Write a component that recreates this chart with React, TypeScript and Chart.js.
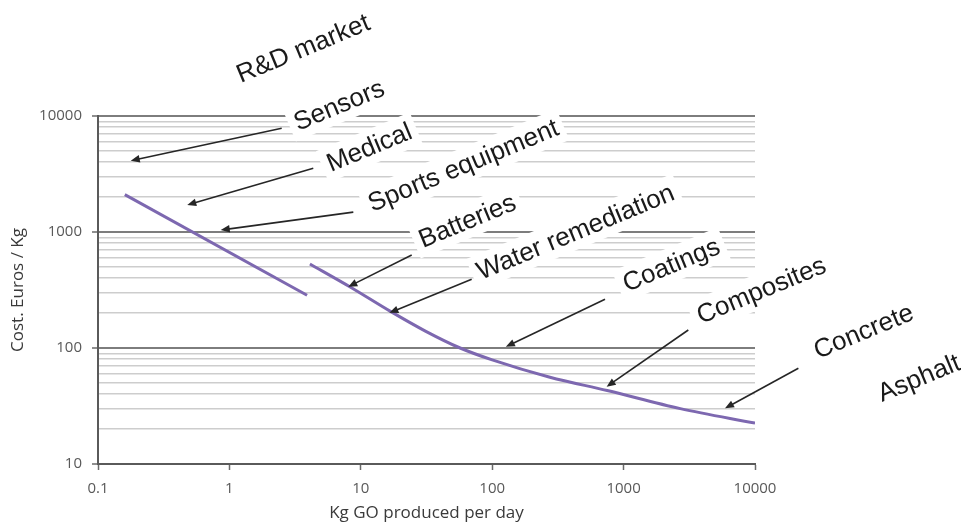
import { useEffect, useRef } from 'react';
import { Chart, registerables } from 'chart.js';

Chart.register(...registerables);

// Cost curve, first segment (small-scale production)
const SEG1_X = [0.16, 3.9];
const SEG1_Y = [2100, 285];
// Cost curve, second segment (scaled-up production)
const SEG2_X = [4.1, 8.3, 16.7, 31, 57, 100, 275, 750, 2700, 10000];
const SEG2_Y = [530, 336, 208, 140, 100, 79, 56, 43, 30, 22.5];

const X_TICKS = [0.1, 1, 10, 100, 1000, 10000];
const X_TICK_LABELS = ['0.1', '1', '10', '100', '1000', '10000'];
const Y_TICKS = [10, 100, 1000, 10000];
const Y_TICK_LABELS = ['10', '100', '1000', '10000'];
const Y_MINOR_MULTIPLIERS = [1, 2, 3, 4, 5, 6, 7, 8, 9];
const X_TITLE = 'Kg GO produced per day';
const Y_TITLE = 'Cost. Euros / Kg';

// Market labels, anchored (baseline start) in data coordinates
const MARKETS = ['R&D market', 'Sensors', 'Medical', 'Sports equipment', 'Batteries', 'Water remediation', 'Coatings', 'Composites', 'Concrete', 'Asphalt'];
const MARKET_X = [1.22, 3.33, 5.93, 12.2, 29.7, 82, 1060, 3880, 30150, 92500];
const MARKET_Y = [19250, 7430, 3290, 1486, 728, 386, 304, 161, 80.4, 34.2];

// Arrows from label to the point on the chart
const ARROW_FROM_X = [2.5, 4.35, 8.77, 24.4, 69.8, 722, 3107, 21380];
const ARROW_FROM_Y = [7830, 3540, 1483, 634, 391, 263, 143, 66.8];
const ARROW_TO_X = [0.1775, 0.478, 0.859, 8.03, 16.5, 127, 743, 5910];
const ARROW_TO_Y = [4122, 1710, 1040, 337, 201, 102.6, 46.4, 30.2];

const Y_GRID = Y_TICKS.slice(0, -1)
  .flatMap((d) => Y_MINOR_MULTIPLIERS.map((m) => m * d))
  .concat([Y_TICKS[Y_TICKS.length - 1]]);

const isMajorY = (v: number) => Y_TICKS.some((t) => Math.abs(t - v) < 1e-9 * t);

const annotationPlugin = {
  id: 'marketAnnotations',
  afterDatasetsDraw(chart: any) {
    const { ctx } = chart;
    const xs = chart.scales.x;
    const ys = chart.scales.y;
    const angle = (-22.5 * Math.PI) / 180;
    ctx.save();
    ctx.font = '26px "Liberation Sans", Arial, sans-serif';
    ctx.textBaseline = 'alphabetic';
    ctx.textAlign = 'left';

    // white halos behind labels
    MARKETS.forEach((text, i) => {
      const px = xs.getPixelForValue(MARKET_X[i]);
      const py = ys.getPixelForValue(MARKET_Y[i]);
      const w = ctx.measureText(text).width;
      ctx.save();
      ctx.translate(px, py);
      ctx.rotate(angle);
      ctx.fillStyle = '#ffffff';
      ctx.fillRect(-6, -25, w + 12, 34);
      ctx.restore();
    });

    // arrows
    ctx.strokeStyle = '#262626';
    ctx.fillStyle = '#262626';
    ctx.lineWidth = 1.6;
    ARROW_FROM_X.forEach((_, i) => {
      const fx = xs.getPixelForValue(ARROW_FROM_X[i]);
      const fy = ys.getPixelForValue(ARROW_FROM_Y[i]);
      const tx = xs.getPixelForValue(ARROW_TO_X[i]);
      const ty = ys.getPixelForValue(ARROW_TO_Y[i]);
      const a = Math.atan2(ty - fy, tx - fx);
      const c = Math.cos(a);
      const s = Math.sin(a);
      const L = 9;
      const W = 3.8;
      ctx.beginPath();
      ctx.moveTo(fx, fy);
      ctx.lineTo(tx - c * (L - 2), ty - s * (L - 2));
      ctx.stroke();
      ctx.beginPath();
      ctx.moveTo(tx, ty);
      ctx.lineTo(tx - L * c + W * s, ty - L * s - W * c);
      ctx.lineTo(tx - L * c - W * s, ty - L * s + W * c);
      ctx.closePath();
      ctx.fill();
    });

    // label text
    ctx.fillStyle = '#1a1a1a';
    MARKETS.forEach((text, i) => {
      const px = xs.getPixelForValue(MARKET_X[i]);
      const py = ys.getPixelForValue(MARKET_Y[i]);
      ctx.save();
      ctx.translate(px, py);
      ctx.rotate(angle);
      ctx.fillText(text, 0, 0);
      ctx.restore();
    });
    ctx.restore();
  },
};

export default function App() {
  const ref = useRef<HTMLCanvasElement>(null);

  useEffect(() => {
    if (!ref.current) return;
    const purple = '#7d68b0';
    const chart = new Chart(ref.current, {
      type: 'line',
      data: {
        datasets: [
          {
            data: SEG1_X.map((x, i) => ({ x, y: SEG1_Y[i] })),
            borderColor: purple,
            borderWidth: 3,
            pointRadius: 0,
            fill: false,
          },
          {
            data: SEG2_X.map((x, i) => ({ x, y: SEG2_Y[i] })),
            borderColor: purple,
            borderWidth: 3,
            pointRadius: 0,
            fill: false,
            cubicInterpolationMode: 'monotone',
          },
        ],
      },
      options: {
        animation: false,
        responsive: false,
        devicePixelRatio: 1,
        layout: { padding: { left: 0, right: 206, top: 116, bottom: 0 } },
        plugins: {
          legend: { display: false },
          tooltip: { enabled: false },
        },
        scales: {
          x: {
            type: 'logarithmic',
            min: 0.1,
            max: 10000,
            afterBuildTicks: (scale: any) => {
              scale.ticks = X_TICKS.map((v) => ({ value: v, major: true }));
            },
            afterFit: (scale: any) => {
              scale.height = 60;
            },
            border: { display: true, color: '#5a5a5a', width: 2 },
            grid: {
              display: true,
              drawOnChartArea: false,
              drawTicks: true,
              tickLength: 6,
              tickColor: '#6a6a6a',
              tickWidth: 1.5,
            },
            ticks: {
              autoSkip: false,
              maxRotation: 0,
              padding: 10,
              color: '#595959',
              font: { family: '"Open Sans", sans-serif', size: 15 },
              callback: (_v: any, index: number) => X_TICK_LABELS[index],
            },
            title: {
              display: true,
              text: X_TITLE,
              color: '#3a3a3a',
              font: { family: '"Open Sans", sans-serif', size: 17 },
              padding: { top: 0, bottom: 1 },
            },
          },
          y: {
            type: 'logarithmic',
            min: 10,
            max: 10000,
            afterBuildTicks: (scale: any) => {
              scale.ticks = Y_GRID.map((v) => ({ value: v, major: isMajorY(v) }));
            },
            afterFit: (scale: any) => {
              scale.width = 98;
            },
            border: { display: true, color: '#5a5a5a', width: 2 },
            grid: {
              display: true,
              drawTicks: true,
              tickLength: 6,
              color: (ctx: any) => (ctx.tick && isMajorY(ctx.tick.value) ? '#7d7d7d' : '#cdcdcd'),
              lineWidth: (ctx: any) => (ctx.tick && isMajorY(ctx.tick.value) ? 2 : 1.5),
              tickColor: (ctx: any) => (ctx.tick && isMajorY(ctx.tick.value) ? '#6a6a6a' : 'rgba(0,0,0,0)'),
              tickWidth: 1.5,
            },
            ticks: {
              autoSkip: false,
              padding: 10,
              color: '#595959',
              font: { family: '"Open Sans", sans-serif', size: 15 },
              callback: (v: any) => {
                const idx = Y_TICKS.findIndex((t) => Math.abs(t - Number(v)) < 1e-9 * t);
                return idx >= 0 ? Y_TICK_LABELS[idx] : '';
              },
            },
            title: {
              display: true,
              text: Y_TITLE,
              color: '#3a3a3a',
              font: { family: '"Open Sans", sans-serif', size: 17 },
              padding: { top: 8, bottom: 0 },
            },
          },
        },
      } as any,
      plugins: [annotationPlugin],
    });
    return () => chart.destroy();
  }, []);

  return (
    <div style={{ position: 'absolute', left: 0, top: 0, width: 961, height: 524, background: '#ffffff' }}>
      <canvas ref={ref} width={961} height={524} style={{ display: 'block', width: 961, height: 524 }} />
    </div>
  );
}
